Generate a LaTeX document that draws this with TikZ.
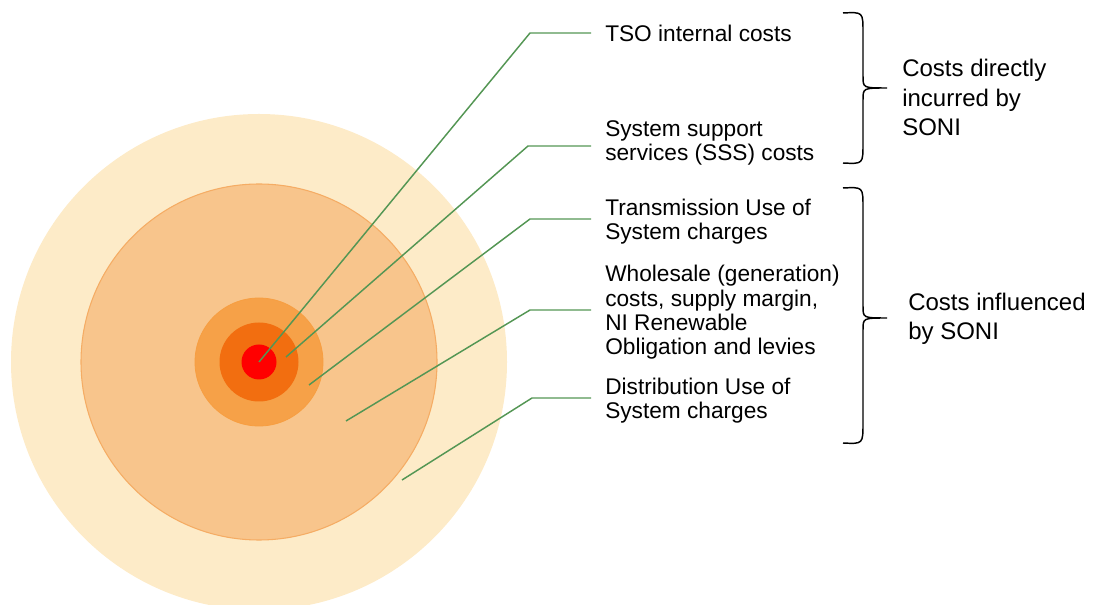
\documentclass[tikz,border=0pt]{standalone}
\usepackage{fontspec}
\setmainfont{Liberation Sans}
\definecolor{ringpale}{RGB}{253,235,200}
\definecolor{ringlight}{RGB}{248,197,140}
\definecolor{ringlightedge}{RGB}{245,172,100}
\definecolor{ringmid}{RGB}{246,161,72}
\definecolor{ringdark}{RGB}{242,110,16}
\definecolor{ringred}{RGB}{255,0,0}
\definecolor{leadgreen}{RGB}{84,150,84}
\tikzset{
  leader/.style={draw=leadgreen, line width=1.1pt, shorten >=10.5pt},
  costlbl/.style={anchor=west, align=left, inner sep=0pt, font=\fontsize{17}{18.2}\selectfont},
  grouplbl/.style={anchor=west, align=left, inner sep=0pt, font=\fontsize{18}{22}\selectfont},
  bracepen/.style={draw=black, line width=1.1pt},
}
\begin{document}
\begin{tikzpicture}[x=0.75pt, y=-0.75pt]
\useasboundingbox (0,0) rectangle (1096,605);
\clip (0,0) rectangle (1096,605);
\coordinate (ctr) at (259,362);
% rings
\fill[ringpale] (ctr) circle[radius=248];
\filldraw[fill=ringlight, draw=ringlightedge, line width=0.8pt] (ctr) circle[radius=178];
\filldraw[fill=ringmid, draw=ringmid!90!orange, line width=0.6pt] (ctr) circle[radius=64];
\fill[ringdark] (ctr) circle[radius=39.5];
\fill[ringred] (ctr) circle[radius=17.5];
% labels
\node[costlbl] (tso) at (605,33) {TSO internal costs};
\node[costlbl] (sss) at (605,143) {System support\\services (SSS) costs};
\node[costlbl] (tuos) at (605,222) {Transmission Use of\\System charges};
\node[costlbl] (whole) at (605,312.5) {Wholesale (generation)\\costs, supply margin,\\NI Renewable\\Obligation and levies};
\node[costlbl] (duos) at (605,401) {Distribution Use of\\System charges};
% leaders
\coordinate (in1) at (259,362);
\coordinate (in2) at (286,357);
\coordinate (in3) at (309,385);
\coordinate (in4) at (346,421);
\coordinate (in5) at (402,480);
\coordinate (k1) at (530,33);
\coordinate (k2) at (528,146);
\coordinate (k3) at (530,219);
\coordinate (k4) at (530,310);
\coordinate (k5) at (532,398);
\draw[leader] (in1) -- (k1) -- (k1 -| tso.west);
\draw[leader] (in2) -- (k2) -- (k2 -| sss.west);
\draw[leader] (in3) -- (k3) -- (k3 -| tuos.west);
\draw[leader] (in4) -- (k4) -- (k4 -| whole.west);
\draw[leader] (in5) -- (k5) -- (k5 -| duos.west);
% braces
\draw[bracepen] (843,13) .. controls (863,12) .. (863,32) -- (863,76)
  .. controls (863,88) .. (887,88) .. controls (863,88) .. (863,100)
  -- (863,144) .. controls (863,164) .. (843,163);
\draw[bracepen] (843,188) .. controls (863,187) .. (863,207) -- (863,306)
  .. controls (863,318) .. (887,318) .. controls (863,318) .. (863,330)
  -- (863,423) .. controls (863,444) .. (843,443);
\node[grouplbl] (direct) at (902,97.5) {Costs directly\\incurred by\\SONI};
\node[grouplbl] (influence) at (908,318.5) {Costs influenced\\by SONI};
\end{tikzpicture}
\end{document}
